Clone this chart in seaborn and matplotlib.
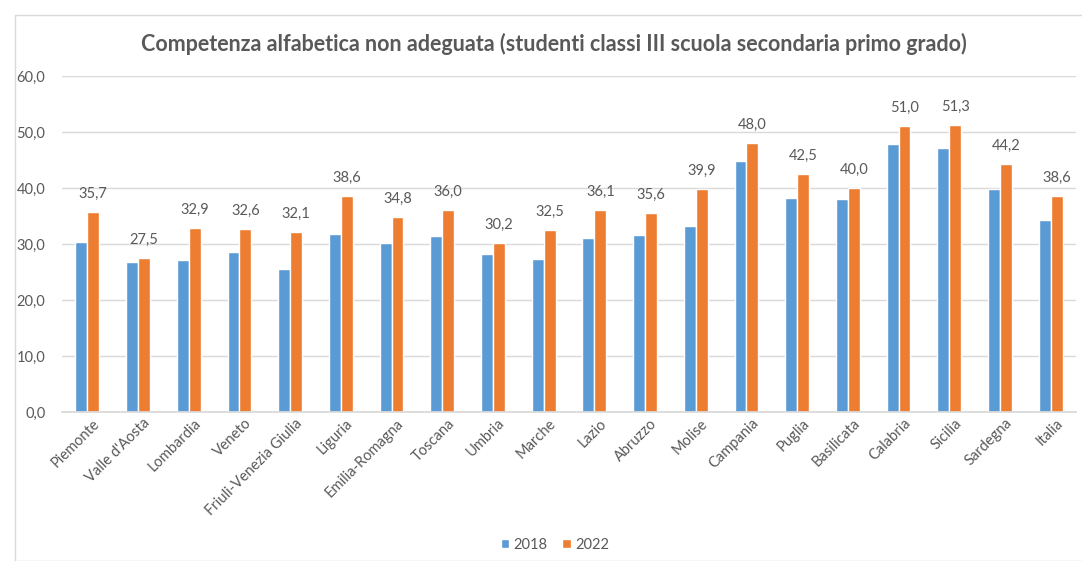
import matplotlib
matplotlib.use("Agg")
import matplotlib.pyplot as plt
import seaborn as sns
import pandas as pd
from matplotlib.patches import Rectangle
import matplotlib.transforms as mtransforms

regions = ["Piemonte", "Valle d'Aosta", "Lombardia", "Veneto", "Friuli-Venezia Giulia",
           "Liguria", "Emilia-Romagna", "Toscana", "Umbria", "Marche", "Lazio", "Abruzzo",
           "Molise", "Campania", "Puglia", "Basilicata", "Calabria", "Sicilia", "Sardegna", "Italia"]
v2018 = [30.4, 26.7, 27.1, 28.6, 25.6, 31.8, 30.2, 31.4, 28.3, 27.4, 31.1, 31.6,
         33.2, 44.9, 38.3, 38.1, 47.9, 47.2, 39.9, 34.3]
v2022 = [35.7, 27.5, 32.9, 32.6, 32.1, 38.6, 34.8, 36.0, 30.2, 32.5, 36.1, 35.6,
         39.9, 48.0, 42.5, 40.0, 51.0, 51.3, 44.2, 38.6]
years = ["2018", "2022"]
title = "Competenza alfabetica non adeguata (studenti classi III scuola secondaria primo grado)"

df = pd.DataFrame({
    "regione": regions * 2,
    "anno": [years[0]] * len(regions) + [years[1]] * len(regions),
    "valore": v2018 + v2022,
})

sns.set_theme(style="white")
plt.rcParams['font.family'] = ['Lato', 'DejaVu Sans']
txt = "#595959"

fig = plt.figure(figsize=(10.82, 5.61), dpi=100)
ax = fig.add_axes([62/1082, 1 - 412/561, (1076 - 62)/1082, (412 - 76)/561])

sns.barplot(data=df, x="regione", y="valore", hue="anno", order=regions, hue_order=years,
            palette=["#5B9BD5", "#ED7D31"], width=0.47, gap=0, saturation=1,
            ax=ax, legend=True)

ax.set_ylim(0, 60)
ax.set_xlim(-0.5, len(regions) - 0.5)
ax.set_yticks(range(0, 61, 10))
ax.set_yticklabels([f"{t:.1f}".replace(".", ",") for t in range(0, 61, 10)], color=txt, fontsize=10.5)
ax.yaxis.grid(True, color="#D9D9D9", linewidth=1)
ax.set_axisbelow(True)
for s in ["top", "right", "left"]:
    ax.spines[s].set_visible(False)
ax.spines["bottom"].set_color("#D9D9D9")
ax.tick_params(axis="y", length=0, pad=12)
ax.tick_params(axis="x", length=0, pad=3)
ax.set_xlabel("")
ax.set_ylabel("")
plt.setp(ax.get_xticklabels(), rotation=45, ha="right", rotation_mode="anchor",
         color=txt, fontsize=10.5)

# data labels for 2022
cont = ax.containers[1]
ax.bar_label(cont, labels=[f"{v:.1f}".replace(".", ",") for v in v2022],
             padding=8, color=txt, fontsize=10.5)

offset = mtransforms.ScaledTranslation(5/100, 0, fig.dpi_scale_trans)
for lab in ax.get_xticklabels():
    lab.set_transform(lab.get_transform() + offset)

leg = ax.legend(loc="center", bbox_to_anchor=(555/1082, 1 - 545/561),
                bbox_transform=fig.transFigure, ncol=2, frameon=False,
                fontsize=10.5, handlelength=0.6, handleheight=0.6, handletextpad=0.3,
                columnspacing=1.0)
for t in leg.get_texts():
    t.set_color(txt)

fig.text(554/1082, 1 - 44/561, title, ha="center", va="center", fontsize=15.5,
         fontweight="bold", color=txt)

fig.patches.append(Rectangle((15/1082, 0), 1.2, 1 - 15/561, transform=fig.transFigure,
                             fill=False, edgecolor="#D9D9D9", linewidth=1))

fig.savefig("out.png", dpi=100)
